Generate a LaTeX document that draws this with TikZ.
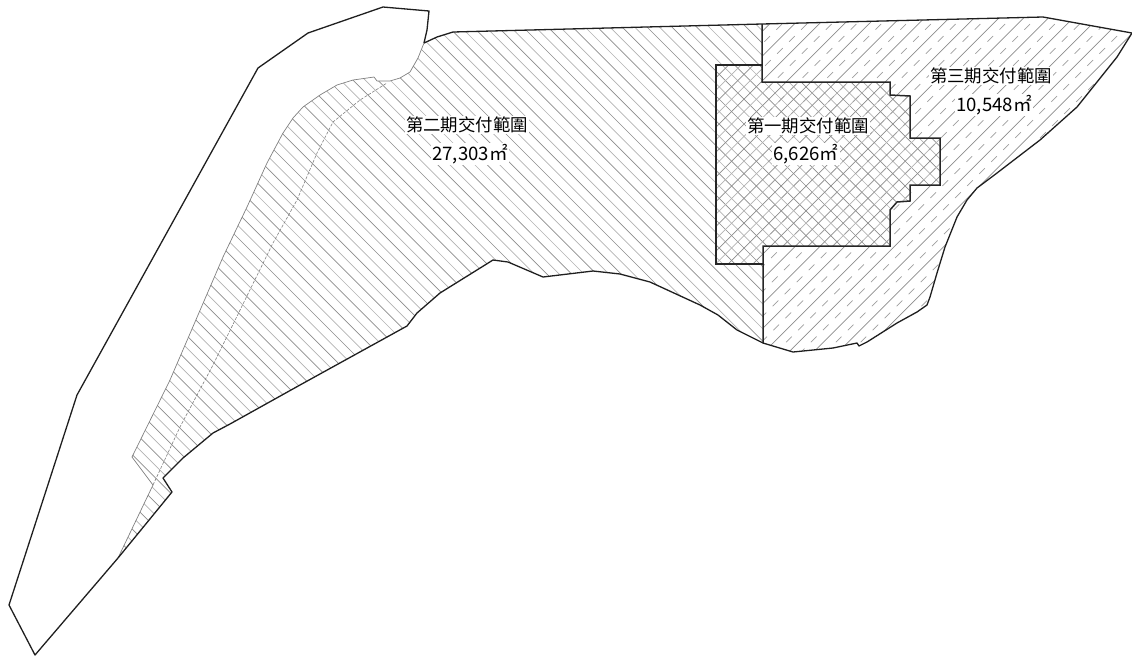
\documentclass[tikz,border=0pt]{standalone}
\usepackage{fontspec}
\setmainfont{Noto Sans CJK TC}
\tikzset{
  boundary/.style={line width=1.3pt,black!88,line join=round},
  thinedge/.style={line width=0.7pt,black!50,line join=round},
  innerdash/.style={line width=0.6pt,black!50,dash pattern=on 3pt off 1.5pt},
  wall/.style={line width=1.5pt,black!85,line join=miter},
  hatchdark/.style={line width=0.7pt,black!45},
  hatchlight/.style={line width=0.7pt,black!30},
  hatchdash/.style={line width=0.7pt,black!38,dash pattern=on 8pt off 9pt},
  lbl/.style={font=\fontsize{17.4}{20}\selectfont,text=black,fill=white,inner sep=1pt},
  lblnum/.style={font=\fontsize{18.6}{20}\selectfont,text=black,fill=white,inner sep=1pt},
}
\def\lowerwest{(763,343) -- (737,330) -- (718,315) -- (700,305) -- (650,282) -- (620,274) -- (593,271) -- (543,277) -- (508,262) -- (493,260) -- (440,293) -- (417,313) -- (407,326) -- (300,385) -- (230,424) -- (213,433) -- (183,458) -- (163,478) -- (172,492) -- (118,558)}
\def\innerleft{(118,558) -- (153,485) -- (132,457) -- (170,380) -- (223,257) -- (247,207) -- (267,163) -- (283,133) -- (293,118) -- (303,107) -- (320,95) -- (337,85) -- (353,80) -- (374,77) -- (377,81) -- (390,81) -- (400,78) -- (410,72) -- (418,58) -- (424,43)}
\def\topwest{(424,43) -- (437,37) -- (453,32) -- (762,24)}
\def\topeast{(762,24) -- (1043,17) -- (1132,33) -- (1117,57) -- (1077,107) -- (1040,140) -- (997,173) -- (977,188) -- (967,200) -- (957,217) -- (945,247) -- (937,273) -- (930,297) -- (927,305) -- (917,312) -- (897,323) -- (867,342) -- (859,346) -- (857,343) -- (833,348) -- (793,352) -- (763,343)}
\def\stepedge{(762,82) -- (890,82) -- (890,95) -- (910,96) -- (910,138) -- (940,138) -- (940,185) -- (910,185) -- (910,201) -- (897,202) -- (890,210) -- (890,246) -- (763,246)}
\begin{document}
\begin{tikzpicture}[x=1pt,y=-1pt]
\useasboundingbox (0,0) rectangle (1132,657);
% phase 2 + phase 1: back-slash hatching
\begin{scope}
  \clip \lowerwest -- \innerleft -- \topwest -- \stepedge -- cycle;
  \foreach \i in {-64,-62,...,38}{
    \pgfmathsetmacro\c{12.4*\i}
    \draw[hatchdark] (0,\c) -- (1132,1132+\c);
    \pgfmathsetmacro\d{12.4*(\i+1)}
    \draw[hatchlight] (0,\d) -- (1132,1132+\d);
  }
\end{scope}
% phase 3 + phase 1: solid slash hatching
\begin{scope}
  \clip \topeast -- (763,264) -- (716,264) -- (716,65) -- (762,65) -- cycle;
  \foreach \i in {60,62,...,110}{
    \pgfmathsetmacro\c{12.4*\i}
    \draw[hatchdark] (\c,0) -- (\c-700,700);
  }
\end{scope}
% phase 1: intermediate slash hatching
\begin{scope}
  \clip (716,65) -- (762,65) -- \stepedge -- (763,264) -- (716,264) -- cycle;
  \foreach \i in {61,63,...,111}{
    \pgfmathsetmacro\c{12.4*\i}
    \draw[hatchlight] (\c,0) -- (\c-700,700);
  }
\end{scope}
% phase 3: dashed slash hatching
\begin{scope}
  \clip \topeast -- \stepedge -- cycle;
  \foreach \i in {61,63,...,111}{
    \pgfmathsetmacro\c{12.4*\i}
    \draw[hatchdash] (\c,0) -- (\c-700,700);
  }
\end{scope}
% edges
\draw[thinedge] \innerleft;
\draw[innerdash] (153,485) -- (180,427) -- (213,365) -- (273,243) -- (297,200) -- (317,153) -- (333,122) -- (360,100) -- (387,83);
\draw[boundary] (118,558) -- (35,655) -- (9,605) -- (77,395) -- (258,68) -- (308,33) -- (383,7) -- (429,11) -- (427,30) -- (424,43);
\draw[boundary] \lowerwest;
\draw[boundary] \topwest;
\draw[boundary] \topeast;
\draw[wall] (762,24) -- \stepedge -- (763,343);
\draw[wall] (762,65) -- (716,65) -- (716,264) -- (763,264);
% labels
\node[lbl] (p2) at (467,125) {第二期交付範圍};
\node[lblnum] (p2a) at (470,154) {27,303㎡};
\node[lbl] (p1) at (808,126) {第一期交付範圍};
\node[lblnum] (p1a) at (806,154) {6,626㎡};
\node[lbl] (p3) at (991,76) {第三期交付範圍};
\node[lblnum] (p3a) at (994,105) {10,548㎡};
\end{tikzpicture}
\end{document}
